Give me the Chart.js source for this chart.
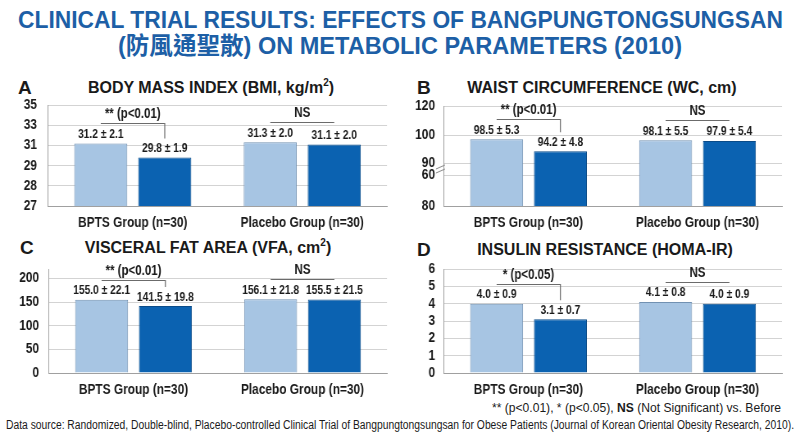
<!DOCTYPE html>
<html>
<head>
<meta charset="utf-8">
<script src="https://cdn.jsdelivr.net/npm/chart.js@4.4.1/dist/chart.umd.min.js"></script>
<style>
  body { margin: 0; background: #fff; }
  #page { position: relative; width: 800px; height: 436px; overflow: hidden; color: #1a1a1a; }
  .fit { position: absolute; white-space: nowrap; transform-origin: 0 0; }
  .title { color: #1d5fa6; font: bold 24px/26px 'Liberation Sans', Arial, 'Noto Sans CJK TC', sans-serif; }
  .letter { position: absolute; font: bold 19px/22px 'Liberation Sans', Arial, sans-serif; }
  .ptitle { position: absolute; white-space: nowrap; transform: translateX(-50%);
            font: bold 16px/20px 'Liberation Sans', Arial, sans-serif; }
  .ptitle sup { font-size: 10px; vertical-align: 7px; line-height: 0; }
  canvas { position: absolute; }
  .note { font: 12px/14px 'Liberation Sans', Arial, sans-serif; }
</style>
</head>
<body>
<div id="page">
  <div class="fit title" data-w="765" style="left:18px;top:7px;">CLINICAL TRIAL RESULTS: EFFECTS OF BANGPUNGTONGSUNGSAN</div>
  <div class="fit title" data-w="564" style="left:118px;top:33px;">(防風通聖散) ON METABOLIC PARAMETERS (2010)</div>

  <div class="letter" style="left:18px;top:77px;">A</div>
  <div class="ptitle" style="left:211px;top:78px;">BODY MASS INDEX (BMI, kg/m<sup>2</sup>)</div>
  <canvas id="bmiChart" style="left:0;top:95px;"></canvas>

  <div class="letter" style="left:417px;top:77px;">B</div>
  <div class="ptitle" style="left:602px;top:78px;">WAIST CIRCUMFERENCE (WC, cm)</div>
  <canvas id="wcChart" style="left:400px;top:95px;"></canvas>

  <div class="letter" style="left:20px;top:237px;">C</div>
  <div class="ptitle" style="left:208px;top:238px;">VISCERAL FAT AREA (VFA, cm<sup>2</sup>)</div>
  <canvas id="vfaChart" style="left:0;top:259px;"></canvas>

  <div class="letter" style="left:417px;top:239px;">D</div>
  <div class="ptitle" style="left:605px;top:240px;">INSULIN RESISTANCE (HOMA-IR)</div>
  <canvas id="homaChart" style="left:400px;top:259px;"></canvas>

  <div class="fit note" data-w="289" style="left:492px;top:401px;">** (p&lt;0.01), * (p&lt;0.05), <b>NS</b> (Not Significant) vs. Before</div>
  <div class="fit note" data-w="788" style="left:6px;top:418px;">Data source: Randomized, Double-blind, Placebo-controlled Clinical Trial of Bangpungtongsungsan for Obese Patients (Journal of Korean Oriental Obesity Research, 2010).</div>
</div>

<script>
// --- data ---
const groups = ['BPTS Group (n=30)', 'Placebo Group (n=30)'];

const bmiBefore = [31.2, 31.3];
const bmiAfter = [29.8, 31.1];
const bmiBeforeSd = [2.1, 2.0];
const bmiAfterSd = [1.9, 2.0];
const bmiTicks = [27, 28, 29, 31, 33, 35];
const bmiMarks = ['** (p<0.01)', 'NS'];

const wcBefore = [98.5, 98.1];
const wcAfter = [94.2, 97.9];
const wcBeforeSd = [5.3, 5.5];
const wcAfterSd = [4.8, 5.4];
const wcTicks = [80, 60, 90, 100, 120];
const wcMarks = ['** (p<0.01)', 'NS'];

const vfaBefore = [155.0, 156.1];
const vfaAfter = [141.5, 155.5];
const vfaBeforeSd = [22.1, 21.8];
const vfaAfterSd = [19.8, 21.5];
const vfaTicks = [0, 50, 100, 150, 200];
const vfaMarks = ['** (p<0.01)', 'NS'];

const homaBefore = [4.0, 4.1];
const homaAfter = [3.1, 4.0];
const homaBeforeSd = [0.9, 0.8];
const homaAfterSd = [0.7, 0.9];
const homaTicks = [0, 1, 2, 3, 4, 5, 6];
const homaMarks = ['* (p<0.05)', 'NS'];

// narrow text: no condensed Arial here, so the canvases are drawn wide and squeezed
const CW = 488;
const SX = 400 / CW;
const FONT = "'Liberation Sans', Arial, sans-serif";
const h = v => v / SX;   // css px -> canvas px (horizontal)

document.querySelectorAll('.fit').forEach(el => {
    const w = el.getBoundingClientRect().width;
    el.style.transform = 'scaleX(' + (el.dataset.w / w) + ')';
});

// scale whose ticks sit at given fractions of the axis (the figure's axes are not linear)
class KnotScale extends Chart.LinearScale {
    buildTicks() {
        return this.options.tickValues.map(v => ({ value: v }));
    }
    knots() {
        const vals = this.options.tickValues, fr = this.options.tickFracs;
        const out = [];
        vals.forEach((v, i) => { if (!out.length || v > out[out.length - 1][0]) out.push([v, fr[i]]); });
        return out;
    }
    getPixelForValue(value) {
        const k = this.knots();
        let f = k[k.length - 1][1];
        if (value <= k[0][0]) f = k[0][1];
        else {
            for (let i = 1; i < k.length; i++) {
                if (value <= k[i][0]) {
                    f = k[i - 1][1] + (value - k[i - 1][0]) / (k[i][0] - k[i - 1][0]) * (k[i][1] - k[i - 1][1]);
                    break;
                }
            }
        }
        return this.getPixelForDecimal(f);
    }
    getPixelForTick(index) {
        return this.getPixelForDecimal(this.options.tickFracs[index]);
    }
}
KnotScale.id = 'knot';
KnotScale.defaults = {};
Chart.register(KnotScale);

// value labels, significance brackets
const statLabels = {
    id: 'statLabels',
    afterDatasetsDraw(chart, args, opts) {
        const ctx = chart.ctx;
        const m0 = chart.getDatasetMeta(0).data, m1 = chart.getDatasetMeta(1).data;
        ctx.save();
        ctx.fillStyle = '#1a1a1a';
        ctx.textAlign = 'center';
        ctx.textBaseline = 'middle';
        ctx.font = 'bold 12.5px ' + FONT;
        chart.data.datasets.forEach((ds, d) => {
            chart.getDatasetMeta(d).data.forEach((bar, i) => {
                ctx.fillText(ds.data[i].toFixed(1) + ' \u00b1 ' + ds.sd[i].toFixed(1), bar.x, bar.y - 9);
            });
        });
        ctx.strokeStyle = '#6b6b6b';
        ctx.lineWidth = 1.2;
        ctx.font = 'bold 14px ' + FONT;
        opts.marks.forEach((mark, i) => {
            const a = m0[i], b = m1[i];
            const lineY = Math.round(Math.min(a.y, b.y) - 20) + 0.5;
            ctx.beginPath();
            ctx.moveTo(a.x, lineY);
            ctx.lineTo(b.x, lineY);
            if (mark !== 'NS') ctx.lineTo(b.x, Math.max(lineY + 5, b.y - 19));
            ctx.stroke();
            ctx.fillText(mark, (a.x + b.x) / 2, lineY - 9);
        });
        ctx.restore();
    }
};

// little break marks on the WC axis
const axisBreak = {
    id: 'axisBreak',
    afterDraw(chart, args, opts) {
        const y = chart.scales.y, ctx = chart.ctx;
        const p = (y.getPixelForTick(opts.between[0]) + y.getPixelForTick(opts.between[1])) / 2;
        const x = y.right;
        ctx.save();
        ctx.strokeStyle = '#888';
        ctx.lineWidth = 1;
        [-2, 2].forEach(dy => {
            ctx.beginPath();
            ctx.moveTo(x - h(8), p + dy + 2);
            ctx.lineTo(x + h(1), p + dy - 2);
            ctx.stroke();
        });
        ctx.restore();
    }
};

function makePanel(id, height, before, after, beforeSd, afterSd, marks, yScale, pad, yWidth, extra) {
    const canvas = document.getElementById(id);
    canvas.width = CW;
    canvas.height = height;
    canvas.style.width = '400px';
    canvas.style.height = height + 'px';
    return new Chart(canvas, {
        type: 'bar',
        data: {
            labels: groups,
            datasets: [
                { label: 'Before', data: before, sd: beforeSd, backgroundColor: '#a7c5e3', borderColor: '#7191b2', borderWidth: 1 },
                { label: 'After', data: after, sd: afterSd, backgroundColor: '#0b62b1', borderColor: '#0a4b88', borderWidth: 1 }
            ]
        },
        options: {
            responsive: false,
            animation: false,
            devicePixelRatio: 1,
            events: [],
            categoryPercentage: 0.755,
            barPercentage: 0.83,
            layout: { padding: { top: pad.top, right: h(pad.right), left: 0, bottom: 0 } },
            plugins: {
                legend: { display: false },
                tooltip: { enabled: false },
                statLabels: { marks: marks },
                axisBreak: { between: [1, 2] }
            },
            scales: {
                x: {
                    grid: { display: false, drawTicks: false },
                    border: { display: true, color: '#a0a0a0' },
                    ticks: { color: '#1a1a1a', padding: 8, font: { family: FONT, size: 14.5, weight: 'bold' } },
                    afterFit: s => { s.height = 26; }
                },
                y: Object.assign({
                    grid: { color: '#d3d3d3', drawTicks: false },
                    border: { display: true, color: '#a0a0a0' },
                    afterFit: s => { s.width = h(yWidth); s.paddingTop = 0; s.paddingBottom = 0; }
                }, yScale)
            }
        },
        plugins: [statLabels].concat(extra || [])
    });
}

const yTickStyle = (padding) => ({ color: '#1a1a1a', padding: h(padding), autoSkip: false, font: { family: FONT, size: 14.5, weight: 'bold' } });

makePanel('bmiChart', 137, bmiBefore, bmiAfter, bmiBeforeSd, bmiAfterSd, bmiMarks, {
    type: 'knot', min: 27, max: 35,
    tickValues: bmiTicks, tickFracs: [0, 0.2, 0.4, 0.6, 0.8, 1],
    ticks: Object.assign(yTickStyle(11), { callback: (v, i) => String(bmiTicks[i]) })
}, { top: 10, right: 13 }, 48);

makePanel('wcChart', 137, wcBefore, wcAfter, wcBeforeSd, wcAfterSd, wcMarks, {
    type: 'knot', min: 80, max: 120,
    tickValues: wcTicks, tickFracs: [0, 0.31, 0.43, 0.71, 1],
    ticks: Object.assign(yTickStyle(9), { callback: (v, i) => String(wcTicks[i]) })
}, { top: 11, right: 18 }, 44, [axisBreak]);

makePanel('vfaChart', 140, vfaBefore, vfaAfter, vfaBeforeSd, vfaAfterSd, vfaMarks, {
    type: 'linear', min: 0, max: 220,
    afterBuildTicks: s => { s.ticks = vfaTicks.map(v => ({ value: v })); },
    ticks: yTickStyle(10)
}, { top: 10, right: 13 }, 49);

makePanel('homaChart', 140, homaBefore, homaAfter, homaBeforeSd, homaAfterSd, homaMarks, {
    type: 'linear', min: 0, max: 6,
    afterBuildTicks: s => { s.ticks = homaTicks.map(v => ({ value: v })); },
    ticks: yTickStyle(9)
}, { top: 10, right: 18 }, 44);
</script>
</body>
</html>
